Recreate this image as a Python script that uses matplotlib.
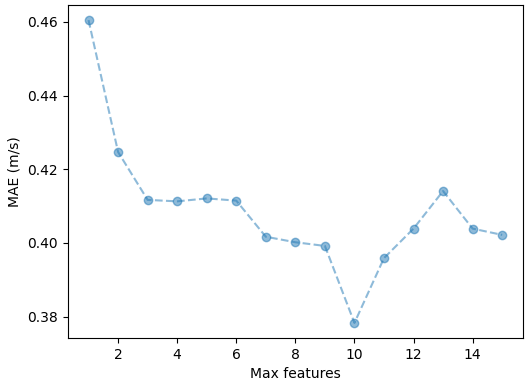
import matplotlib
matplotlib.use("Agg")
import matplotlib.pyplot as plt

max_features = list(range(1, 16))
mae = [0.4605, 0.4247, 0.4117, 0.4113, 0.4121, 0.4115, 0.4017, 0.4002,
       0.3992, 0.3783, 0.3959, 0.4039, 0.4141, 0.4039, 0.4022]

fig, ax = plt.subplots(figsize=(5.26, 3.82), dpi=100)
fig.subplots_adjust(left=0.129, right=0.994, top=0.987, bottom=0.115)

ax.plot(max_features, mae, 'o--', color='C0', alpha=0.5)
ax.set_xlabel('Max features')
ax.set_ylabel('MAE (m/s)')

fig.savefig('out.png', dpi=100)
